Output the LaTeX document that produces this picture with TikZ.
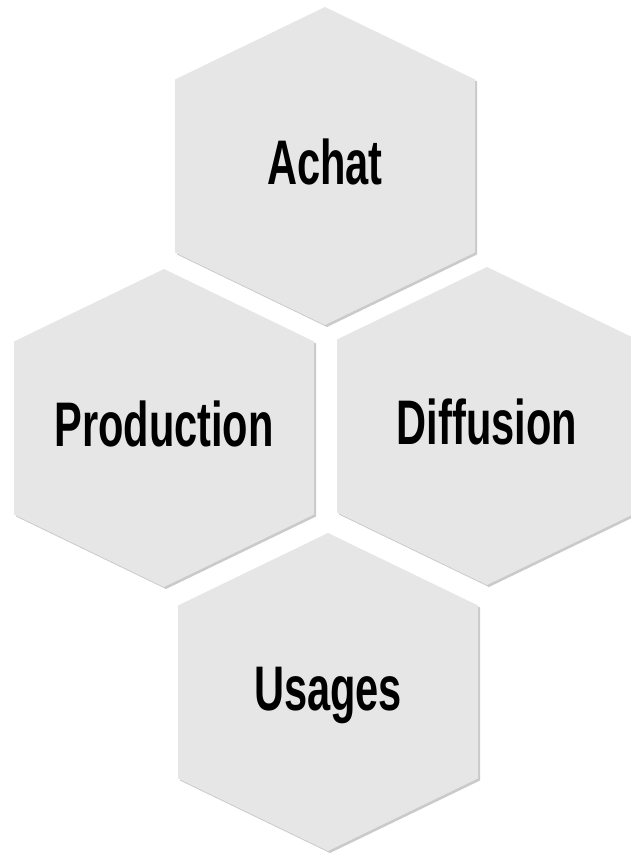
\documentclass[tikz,border=0pt]{standalone}
\usepackage{fontspec}
\usepackage{tikz}
\usetikzlibrary{shadows, calc}
\newfontfamily\hexfont[FakeStretch=0.66]{Liberation Sans}
\definecolor{hexgray}{RGB}{230,230,230}

\begin{document}
\begin{tikzpicture}[x=1pt, y=1pt,
        hex/.style={fill=hexgray, draw=none, drop shadow={shadow xshift=2pt, shadow yshift=-2pt, opacity=0.35, fill=black!60}},
        hextext/.style={anchor=base, font=\hexfont\bfseries\fontsize{63}{63}\selectfont, inner sep=0pt}]
        \useasboundingbox (0,0) rectangle (631,856);

        % Centres
        \coordinate (Achat) at (325,690);
        \coordinate (Production) at (164,428);
        \coordinate (Diffusion) at (487,430);
        \coordinate (Usages) at (328,164);

        % Hexagons
        \foreach \hexname in {Achat, Production, Diffusion, Usages}{
            \path[hex, shift={(\hexname)}] (0,159) -- (150,86.5) -- (150,-86.5) -- (0,-159) -- (-150,-86.5) -- (-150,86.5) -- cycle;
        }

        % Labels
        \node (AchatText) [hextext] at ($(Achat)+(0,-19)$) {Achat};
        \node (ProductionText) [hextext] at ($(Production)+(0,-19)$) {Production};
        \node (DiffusionText) [hextext] at ($(Diffusion)+(0,-19)$) {Diffusion};
        \node (UsagesText) [hextext] at ($(Usages)+(0,-19)$) {Usages};
    \end{tikzpicture}
\end{document}
